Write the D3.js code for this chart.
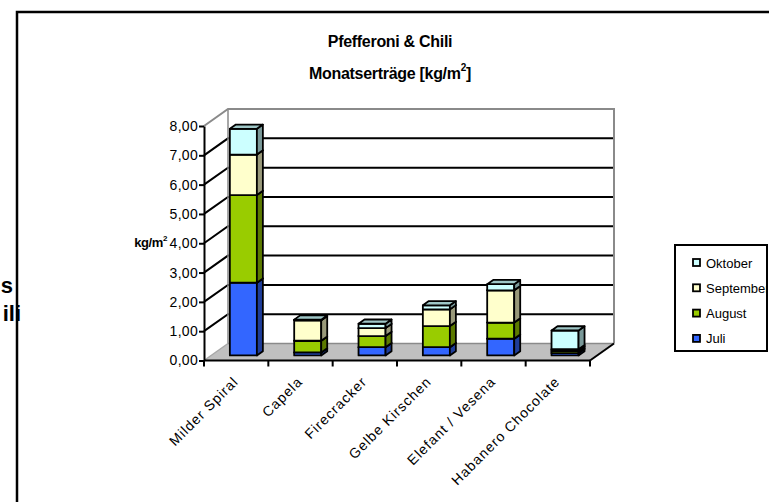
<!DOCTYPE html>
<html><head><meta charset="utf-8">
<script src="https://cdn.jsdelivr.net/npm/d3@7"></script>
<style>
html,body{margin:0;padding:0;background:#fff;}
svg{display:block;font-family:Arial,"Liberation Sans",sans-serif;}
</style></head><body>
<svg id="chart" width="769" height="502"></svg>
<script>
// Monthly yields per variety, kg/m²
const categories = ["Milder Spiral", "Capela", "Firecracker", "Gelbe Kirschen", "Elefant / Vesena", "Habanero Chocolate"];
const months = ["Juli", "August", "September", "Oktober"];
const juli      = [2.48, 0.10, 0.28, 0.28, 0.57, 0.08];
const august    = [2.99, 0.40, 0.38, 0.72, 0.55, 0.07];
const september = [1.38, 0.70, 0.27, 0.57, 1.10, 0.06];
const oktober   = [0.88, 0.02, 0.15, 0.14, 0.21, 0.64];
const yTicks = [0, 1, 2, 3, 4, 5, 6, 7, 8];
const monthColors = ["#3366FF", "#99CC00", "#FFFFCC", "#CCFFFF"];

const series = [juli, august, september, oktober];
const svg = d3.select("#chart");
const fmt = d3.formatLocale({decimal: ",", thousands: ".", grouping: [3], currency: ["", "€"]}).format(".2f");

// oblique depth vector of the plot box
const DX = 24, DY = -17;
const D0 = 0.3, D1 = 0.55;   // front / back depth of the columns

const x = d3.scaleBand().domain(categories).range([204, 590]).paddingInner(0.58).paddingOuter(0.29);
const y = d3.scaleLinear().domain([0, 8]).range([360.5, 126]);
const x0 = x.range()[0], x1 = x.range()[1];

// text peeking in from the left
svg.append("g").attr("font-weight", "bold").attr("font-size", 22).attr("text-anchor", "end")
  .selectAll("text").data(["s", "ili"]).join("text")
  .attr("x", (d, i) => i ? 21 : 13).attr("y", (d, i) => i ? 321 : 293).text(d => d);

// chart frame
svg.append("rect").attr("x", 17).attr("y", 12).attr("width", 800).attr("height", 600)
  .attr("fill", "none").attr("stroke", "#000").attr("stroke-width", 2.5);

// titles
const title = svg.append("g").attr("font-weight", "bold").attr("font-size", 16).attr("text-anchor", "middle")
  .attr("letter-spacing", -0.3);
title.append("text").attr("x", 390).attr("y", 47).text("Pfefferoni & Chili");
const t2 = title.append("text").attr("x", 390).attr("y", 79);
t2.append("tspan").text("Monatserträge [kg/m");
t2.append("tspan").attr("font-size", 10).attr("dy", -8).text("2");
t2.append("tspan").attr("dy", 8).text("]");

// walls and floor
const P = (px, py, d) => [px + d * DX, py + d * DY];
const line = d3.line();
const g = svg.append("g");
g.append("path").attr("fill", "#fff")
  .attr("d", line([P(x0, y(8), 1), P(x1, y(8), 1), P(x1, y(0), 1), P(x0, y(0), 1)]) + "Z");
g.append("path").attr("fill", "#C0C0C0")
  .attr("d", line([P(x0, y(0), 0), P(x1, y(0), 0), P(x1, y(0), 1), P(x0, y(0), 1)]) + "Z");

// gridlines on back and side wall
yTicks.filter(v => v > 0 && v < 8).forEach(v => {
  g.append("path").attr("stroke", "#000").attr("stroke-width", 2).attr("fill", "none")
    .attr("d", line([P(x0, y(v), 0), P(x0, y(v), 1), P(x1, y(v), 1)]));
});
// wall edges
g.append("path").attr("stroke", "#8a8a8a").attr("stroke-width", 2).attr("fill", "none")
  .attr("d", line([P(x0, y(8), 0), P(x0, y(8), 1), P(x1, y(8), 1), P(x1, y(0), 1)]));
g.append("path").attr("stroke", "#8a8a8a").attr("stroke-width", 1.5).attr("fill", "none")
  .attr("d", line([P(x0, y(8), 1), P(x0, y(0), 1), P(x1, y(0), 1)]));
g.append("path").attr("stroke", "#a8a8a8").attr("stroke-width", 1.5).attr("fill", "none")
  .attr("d", line([P(x0, y(0), 0), P(x0, y(0), 1)]));
g.append("path").attr("stroke", "#000").attr("stroke-width", 2).attr("fill", "none")
  .attr("d", line([P(x1, y(0), 0), P(x1, y(0), 1)]));

// stacked 3D columns
const shade = (c, k) => { const r = d3.rgb(c); return d3.rgb(r.r * k, r.g * k, r.b * k).formatHex(); };
const bw = x.bandwidth();
categories.forEach((cat, ci) => {
  let base = 0;
  series.forEach((s, si) => {
    const v = s[ci], top = base + v;
    const L = x(cat), R = x(cat) + bw;
    const col = monthColors[si];
    const front = [P(L, y(base), D0), P(R, y(base), D0), P(R, y(top), D0), P(L, y(top), D0)];
    const side = [P(R, y(base), D0), P(R, y(base), D1), P(R, y(top), D1), P(R, y(top), D0)];
    const cap = [P(L, y(top), D0), P(R, y(top), D0), P(R, y(top), D1), P(L, y(top), D1)];
    const seg = svg.append("g").attr("stroke", "#000").attr("stroke-width", 1.8).attr("stroke-linejoin", "round");
    seg.append("path").attr("fill", col).attr("d", line(front) + "Z");
    seg.append("path").attr("fill", shade(col, 0.6)).attr("d", line(side) + "Z");
    seg.append("path").attr("fill", shade(col, 0.78)).attr("d", line(cap) + "Z");
    base = top;
  });
});

// value axis
const yAxis = svg.append("g").attr("transform", `translate(${x0},0)`)
  .call(d3.axisLeft(y).tickValues(yTicks).tickFormat(fmt).tickSize(5).tickSizeOuter(0));
yAxis.select(".domain").attr("stroke", "#000").attr("stroke-width", 2);
yAxis.selectAll(".tick line").attr("stroke", "#000").attr("stroke-width", 2);
yAxis.selectAll(".tick text").attr("font-size", 14).attr("font-family", "Arial, 'Liberation Sans', sans-serif")
  .attr("fill", "#000").attr("x", -6).attr("letter-spacing", 0.3);

const yt = svg.append("text").attr("x", 167).attr("y", 247).attr("text-anchor", "end")
  .attr("font-weight", "bold").attr("font-size", 13).attr("letter-spacing", -0.4);
yt.append("tspan").text("kg/m");
yt.append("tspan").attr("font-size", 8).attr("dy", -6).text("2");

// category axis
const xa = svg.append("g");
xa.append("line").attr("x1", x0).attr("x2", x1).attr("y1", y(0)).attr("y2", y(0))
  .attr("stroke", "#000").attr("stroke-width", 2);
d3.range(categories.length + 1).forEach(i => {
  const tx = x0 + i * x.step();
  xa.append("line").attr("x1", tx).attr("x2", tx).attr("y1", y(0)).attr("y2", y(0) + 6)
    .attr("stroke", "#000").attr("stroke-width", 2);
});
xa.selectAll("text.cat").data(categories).join("text").attr("class", "cat")
  .attr("font-size", 14).attr("letter-spacing", 1).attr("text-anchor", "end")
  .attr("transform", d => `translate(${x(d) + bw / 2 + 3},${y(0) + 22}) rotate(-45)`)
  .text(d => d);

// legend
const lg = svg.append("g");
lg.append("clipPath").attr("id", "lgclip").append("rect").attr("x", 675).attr("y", 245).attr("width", 91).attr("height", 106);
lg.append("rect").attr("x", 675).attr("y", 245).attr("width", 92).attr("height", 106)
  .attr("fill", "#fff").attr("stroke", "#000").attr("stroke-width", 2);
const legendOrder = [3, 2, 1, 0];
legendOrder.forEach((si, k) => {
  const cy = 263 + k * 25.3;
  lg.append("rect").attr("x", 693).attr("y", cy - 4).attr("width", 7).attr("height", 7)
    .attr("fill", monthColors[si]).attr("stroke", "#000").attr("stroke-width", 1.8);
  lg.append("text").attr("x", 706).attr("y", cy + 4.5).attr("font-size", 13)
    .attr("letter-spacing", 0).attr("clip-path", "url(#lgclip)").text(months[si]);
});
</script>
</body></html>
